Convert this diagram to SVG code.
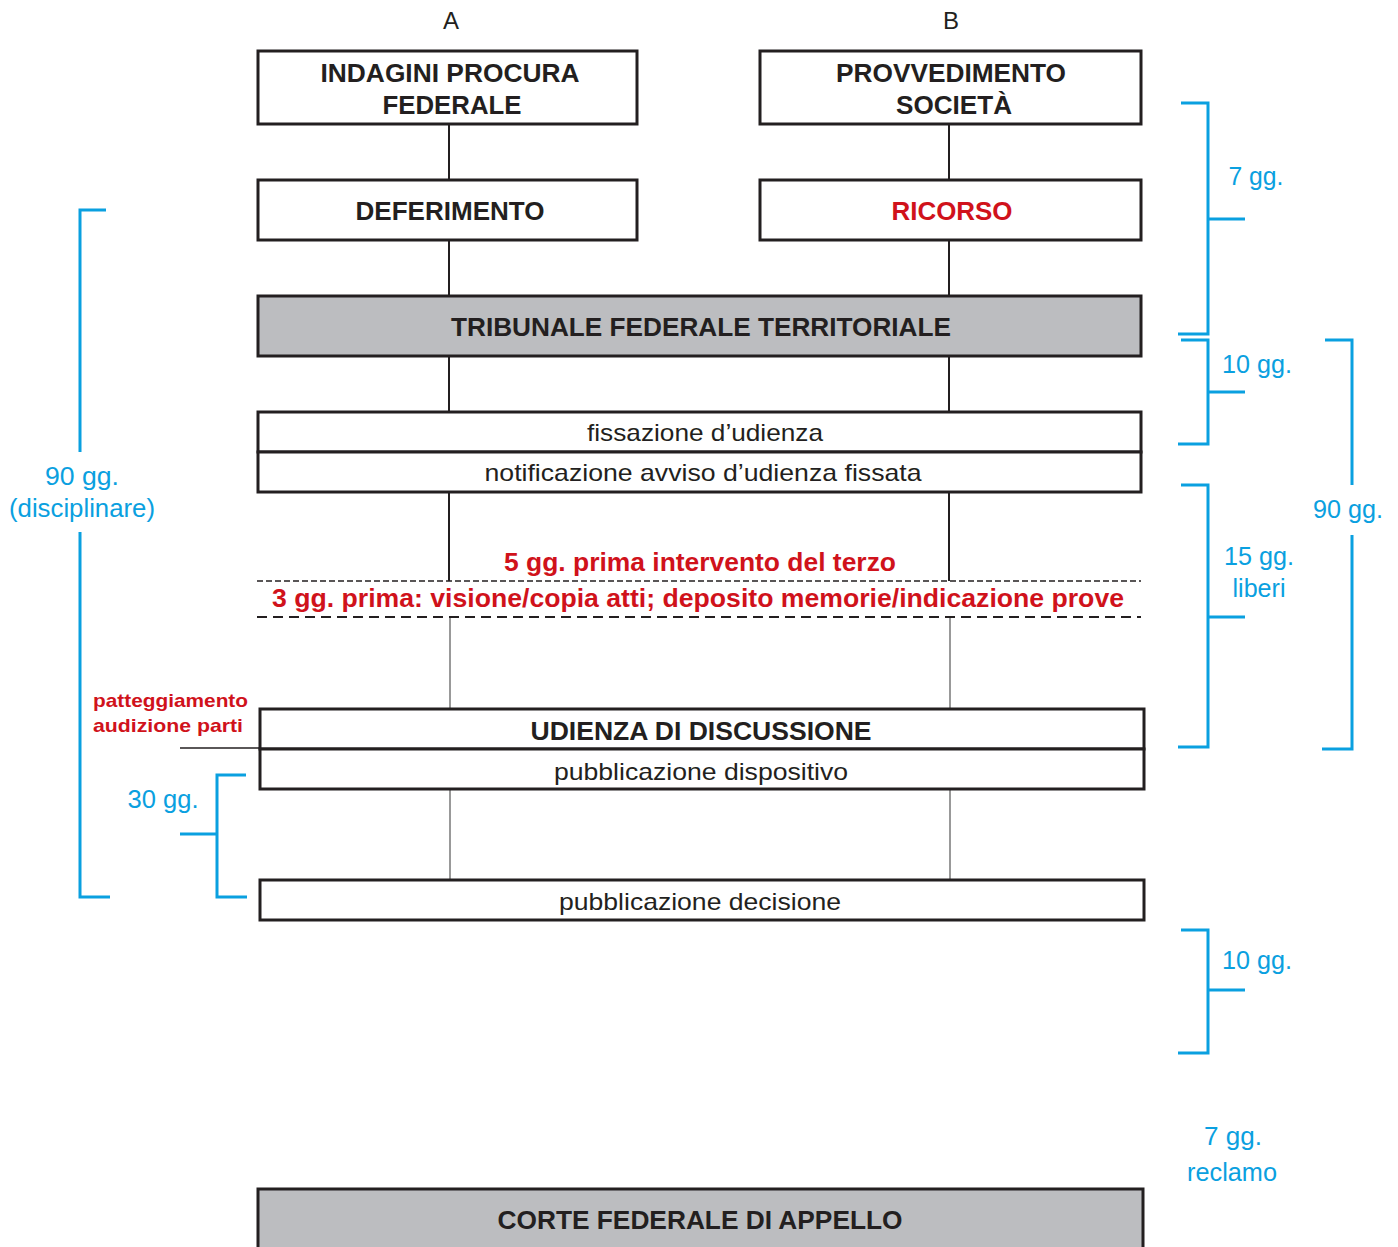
<svg xmlns="http://www.w3.org/2000/svg" width="1398" height="1247" viewBox="0 0 1398 1247">
<style>
.box{fill:#fff;stroke:#231f20;stroke-width:3}
.gray{fill:#bcbdc0;stroke:#231f20;stroke-width:3}
.t{font-family:"Liberation Sans",Arial,sans-serif;font-weight:bold;font-size:25px;fill:#231f20;text-anchor:middle}
.r{font-family:"Liberation Sans",Arial,sans-serif;font-size:24px;fill:#231f20;text-anchor:middle}
.red{font-family:"Liberation Sans",Arial,sans-serif;font-weight:bold;font-size:25px;fill:#d0121b;text-anchor:middle}
.redl{font-family:"Liberation Sans",Arial,sans-serif;font-weight:bold;font-size:19px;fill:#d0121b}
.blue{font-family:"Liberation Sans",Arial,sans-serif;font-size:25px;fill:#0aa0e0;text-anchor:middle}
.ab{font-family:"Liberation Sans Narrow","Liberation Sans",Arial,sans-serif;font-size:24px;fill:#231f20;text-anchor:middle}
.c{stroke:#231f20;stroke-width:2;fill:none}
.cl{stroke:#555;stroke-width:1.2;fill:none}
.br{stroke:#0aa0e0;stroke-width:3;fill:none}
</style>
<text class="ab" x="451" y="29">A</text>
<text class="ab" x="951" y="29">B</text>
<g id="connectors">
<line class="c" x1="449" y1="124" x2="449" y2="180"/>
<line class="c" x1="949" y1="124" x2="949" y2="180"/>
<line class="c" x1="449" y1="240" x2="449" y2="296"/>
<line class="c" x1="949" y1="240" x2="949" y2="296"/>
<line class="c" x1="449" y1="356" x2="449" y2="412"/>
<line class="c" x1="949" y1="356" x2="949" y2="412"/>
<line class="c" x1="449" y1="492" x2="449" y2="581"/>
<line class="c" x1="949" y1="492" x2="949" y2="581"/>
<line class="cl" x1="450" y1="617" x2="450" y2="709"/>
<line class="cl" x1="950" y1="617" x2="950" y2="709"/>
<line class="cl" x1="450" y1="789" x2="450" y2="880"/>
<line class="cl" x1="950" y1="789" x2="950" y2="880"/>
<line stroke="#231f20" stroke-width="1.5" x1="257" y1="581" x2="1141" y2="581" stroke-dasharray="6,3"/>
<line stroke="#231f20" stroke-width="2" x1="257" y1="617" x2="1141" y2="617" stroke-dasharray="10,6"/>
<line stroke="#231f20" stroke-width="1.3" x1="180" y1="748" x2="260" y2="748"/>
</g>
<g id="indagini">
<rect class="box" x="258" y="51" width="379" height="73"/>
<text class="t" x="450" y="82" textLength="259" lengthAdjust="spacingAndGlyphs">INDAGINI PROCURA</text>
<text class="t" x="452" y="114" textLength="139" lengthAdjust="spacingAndGlyphs">FEDERALE</text>
</g>
<g id="provvedimento">
<rect class="box" x="760" y="51" width="381" height="73"/>
<text class="t" x="951" y="82" textLength="230" lengthAdjust="spacingAndGlyphs">PROVVEDIMENTO</text>
<text class="t" x="954" y="114" textLength="116" lengthAdjust="spacingAndGlyphs">SOCIETÀ</text>
</g>
<g id="deferimento">
<rect class="box" x="258" y="180" width="379" height="60"/>
<text class="t" x="450" y="220" textLength="189" lengthAdjust="spacingAndGlyphs">DEFERIMENTO</text>
</g>
<g id="ricorso">
<rect class="box" x="760" y="180" width="381" height="60"/>
<text class="red" x="952" y="220" textLength="121" lengthAdjust="spacingAndGlyphs">RICORSO</text>
</g>
<g id="tribunale">
<rect class="gray" x="258" y="296" width="883" height="60"/>
<text class="t" x="701" y="336" textLength="500" lengthAdjust="spacingAndGlyphs">TRIBUNALE FEDERALE TERRITORIALE</text>
</g>
<g id="fissazione">
<rect class="box" x="258" y="412" width="883" height="40"/>
<text class="r" x="705" y="441" textLength="236" lengthAdjust="spacingAndGlyphs">fissazione d’udienza</text>
</g>
<g id="notificazione">
<rect class="box" x="258" y="452" width="883" height="40"/>
<text class="r" x="703" y="481" textLength="437" lengthAdjust="spacingAndGlyphs">notificazione avviso d’udienza fissata</text>
</g>
<g id="termini">
<text class="red" x="700" y="571" textLength="392" lengthAdjust="spacingAndGlyphs">5 gg. prima intervento del terzo</text>
<text class="red" x="698" y="607" textLength="852" lengthAdjust="spacingAndGlyphs">3 gg. prima: visione/copia atti; deposito memorie/indicazione prove</text>
</g>
<g id="udienza">
<rect class="box" x="260" y="709" width="884" height="40"/>
<text class="t" x="701" y="740" textLength="341" lengthAdjust="spacingAndGlyphs">UDIENZA DI DISCUSSIONE</text>
</g>
<g id="dispositivo">
<rect class="box" x="260" y="749" width="884" height="40"/>
<text class="r" x="701" y="780" textLength="294" lengthAdjust="spacingAndGlyphs">pubblicazione dispositivo</text>
</g>
<g id="decisione">
<rect class="box" x="260" y="880" width="884" height="40"/>
<text class="r" x="700" y="910" textLength="282" lengthAdjust="spacingAndGlyphs">pubblicazione decisione</text>
</g>
<g id="corte">
<rect class="gray" x="258" y="1189" width="885" height="70"/>
<text class="t" x="700" y="1229" textLength="405" lengthAdjust="spacingAndGlyphs">CORTE FEDERALE DI APPELLO</text>
</g>
<g id="patteggiamento">
<text class="redl" x="93" y="707" textLength="155" lengthAdjust="spacingAndGlyphs">patteggiamento</text>
<text class="redl" x="93" y="732" textLength="150" lengthAdjust="spacingAndGlyphs">audizione parti</text>
</g>
<g id="bracket-90-disc">
<path class="br" d="M106,210 H80 V452 M80,532 V897 H110"/>
<text class="blue" x="82" y="485" textLength="74" lengthAdjust="spacingAndGlyphs">90 gg.</text>
<text class="blue" x="82" y="517" textLength="146" lengthAdjust="spacingAndGlyphs">(disciplinare)</text>
</g>
<g id="bracket-30">
<path class="br" d="M246,775 H217 V897 H247 M180,834 H217"/>
<text class="blue" x="163" y="808" textLength="71" lengthAdjust="spacingAndGlyphs">30 gg.</text>
</g>
<g id="bracket-7">
<path class="br" d="M1181,103 H1208 V334 H1178 M1208,219 H1245"/>
<text class="blue" x="1256" y="185" textLength="55" lengthAdjust="spacingAndGlyphs">7 gg.</text>
</g>
<g id="bracket-10a">
<path class="br" d="M1181,340 H1208 V444 H1178 M1208,392 H1245"/>
<text class="blue" x="1257" y="373" textLength="70" lengthAdjust="spacingAndGlyphs">10 gg.</text>
</g>
<g id="bracket-90">
<path class="br" d="M1325,340 H1352 V485 M1352,535 V749 H1322"/>
<text class="blue" x="1348" y="518" textLength="70" lengthAdjust="spacingAndGlyphs">90 gg.</text>
</g>
<g id="bracket-15">
<path class="br" d="M1181,485 H1208 V747 H1178 M1208,617 H1245"/>
<text class="blue" x="1259" y="565" textLength="70" lengthAdjust="spacingAndGlyphs">15 gg.</text>
<text class="blue" x="1259" y="597" textLength="53" lengthAdjust="spacingAndGlyphs">liberi</text>
</g>
<g id="bracket-10b">
<path class="br" d="M1181,930 H1208 V1053 H1178 M1208,990 H1245"/>
<text class="blue" x="1257" y="969" textLength="70" lengthAdjust="spacingAndGlyphs">10 gg.</text>
</g>
<g id="reclamo">
<text class="blue" x="1233" y="1145" textLength="58" lengthAdjust="spacingAndGlyphs">7 gg.</text>
<text class="blue" x="1232" y="1181" textLength="90" lengthAdjust="spacingAndGlyphs">reclamo</text>
</g>
</svg>
